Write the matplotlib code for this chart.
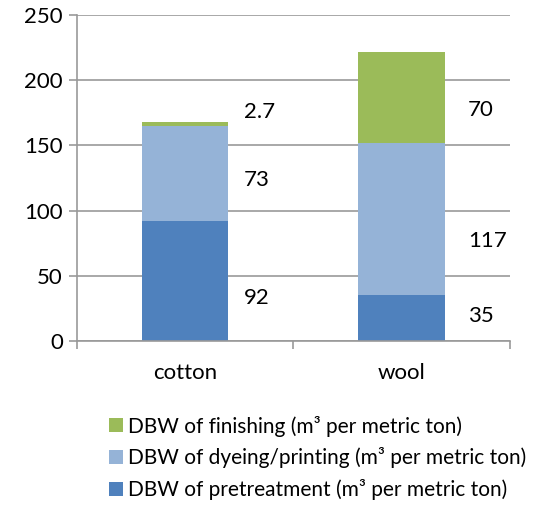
import matplotlib
matplotlib.use("Agg")
import matplotlib.pyplot as plt

categories = ["cotton", "wool"]
pretreatment = [92, 35]
dyeing = [73, 117]
finishing = [2.7, 70]
series_names = [
    "DBW of pretreatment (m³ per metric ton)",
    "DBW of dyeing/printing (m³ per metric ton)",
    "DBW of finishing (m³ per metric ton)",
]
colors = ["#4F81BD", "#95B3D7", "#9BBB59"]

# where the value labels sit (y in data units, x offset from bar centre)
label_y = [[32.8, 123.6, 175.4], [19, 76.7, 177.4]]
label_dx = [0.27, 0.305]

plt.rcParams["font.family"] = ["Lato", "DejaVu Sans"]
plt.rcParams["font.size"] = 16

fig = plt.figure(figsize=(5.34, 5.08), dpi=100)
ax = fig.add_axes([0.144, 0.329, 0.811, 0.641])

x = list(range(len(categories)))
series = [pretreatment, dyeing, finishing]
bottom = [0, 0]
for vals, name, c in zip(series, series_names, colors):
    ax.bar(x, vals, 0.4, bottom=bottom, color=c, label=name, zorder=2)
    bottom = [bo + v for bo, v in zip(bottom, vals)]

for i in x:
    for j, vals in enumerate(series):
        ax.text(i + label_dx[i], label_y[i][j], f"{vals[i]:g}",
                ha="left", va="center")

ax.set_xlim(-0.5, 1.5)
ax.set_ylim(0, 250)
ax.set_yticks(range(0, 251, 50))
ax.yaxis.grid(True, color="#999999", linewidth=1.2, zorder=0)
ax.set_xticks([-0.5, 0.5, 1.5], minor=False)
ax.set_xticklabels([])
ax.set_xticks(x, minor=True)
ax.set_xticklabels(categories, minor=True)
ax.tick_params(axis="x", which="minor", length=0, pad=16)
ax.tick_params(axis="x", which="major", length=6, color="#999999", width=1.2)
ax.tick_params(axis="y", length=6, color="#999999", width=1.2, pad=4)
for s in ["top", "right"]:
    ax.spines[s].set_visible(False)
for s in ["left", "bottom"]:
    ax.spines[s].set_color("#999999")
    ax.spines[s].set_linewidth(1.2)

handles, labels = ax.get_legend_handles_labels()
fig.legend(handles[::-1], labels[::-1], loc="upper left",
           bbox_to_anchor=(0.205, 0.182), frameon=False, fontsize=15,
           handlelength=0.65, handleheight=0.65, handletextpad=0.25,
           labelspacing=0.52, borderpad=0, borderaxespad=0)

fig.savefig("out.png", dpi=100)
